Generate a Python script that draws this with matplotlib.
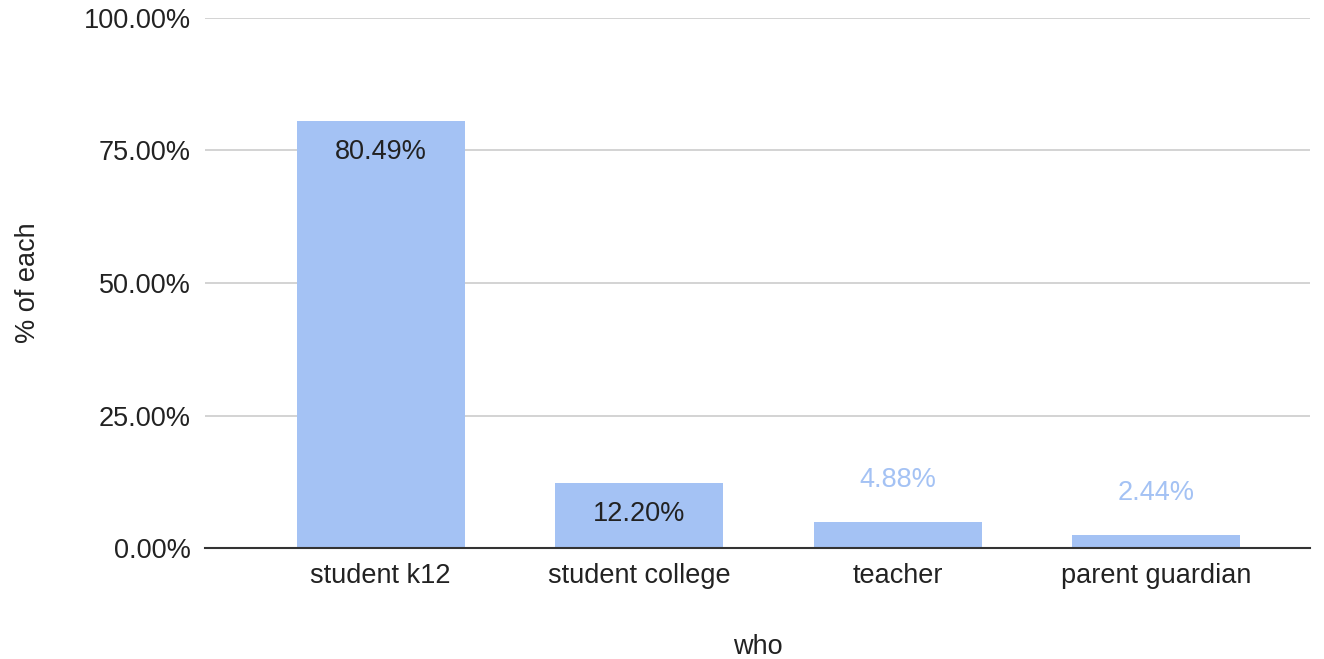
import matplotlib.pyplot as plt
from matplotlib.ticker import FuncFormatter

# 데이터
categories = ['student k12', 'student college', 'teacher', 'parent guardian']
values = [80.49, 12.20, 4.88, 2.44]
yticks = [0, 25, 50, 75, 100]

BAR_COLOR = '#a4c2f4'
FS = 19.5

plt.rcParams['font.family'] = ['Liberation Sans', 'DejaVu Sans']

fig = plt.figure(figsize=(13.24, 6.59), dpi=100)
ax = fig.add_axes([0.1548, 0.1684, 0.8346, 0.8043])

x = list(range(len(categories)))
bars = ax.bar(x, values, width=0.65, color=BAR_COLOR, zorder=3)

ax.set_xlim(-0.68, 3.595)
ax.set_ylim(0, 100)
ax.set_yticks(yticks)
ax.yaxis.set_major_formatter(FuncFormatter(lambda v, p: f'{v:.2f}%'))
ax.grid(axis='y', color='#cccccc', linewidth=1.2, zorder=0)
ax.set_xticks(x)
ax.set_xticklabels(categories)

for s in ['top', 'right', 'left']:
    ax.spines[s].set_visible(False)
ax.spines['bottom'].set_color('#333333')
ax.spines['bottom'].set_linewidth(1.5)
ax.spines['bottom'].set_zorder(4)
ax.tick_params(axis='both', length=0, labelsize=FS, colors='#222222')
ax.tick_params(axis='x', pad=11)
ax.tick_params(axis='y', pad=10)

# 막대 라벨
for xi, v in zip(x, values):
    if v > 10:
        ax.annotate(f'{v:.2f}%', (xi, v), xytext=(0, -22), textcoords='offset points',
                    ha='center', va='center', fontsize=FS, color='#222222', zorder=5)
    else:
        ax.annotate(f'{v:.2f}%', (xi, v), xytext=(0, 30), textcoords='offset points',
                    ha='center', va='center', fontsize=FS, color=BAR_COLOR, zorder=5)

ax.set_xlabel('who', fontsize=FS, color='#222222', labelpad=32)
ax.set_ylabel('% of each', fontsize=FS, color='#222222', labelpad=31)

fig.savefig('out.png', dpi=100)
